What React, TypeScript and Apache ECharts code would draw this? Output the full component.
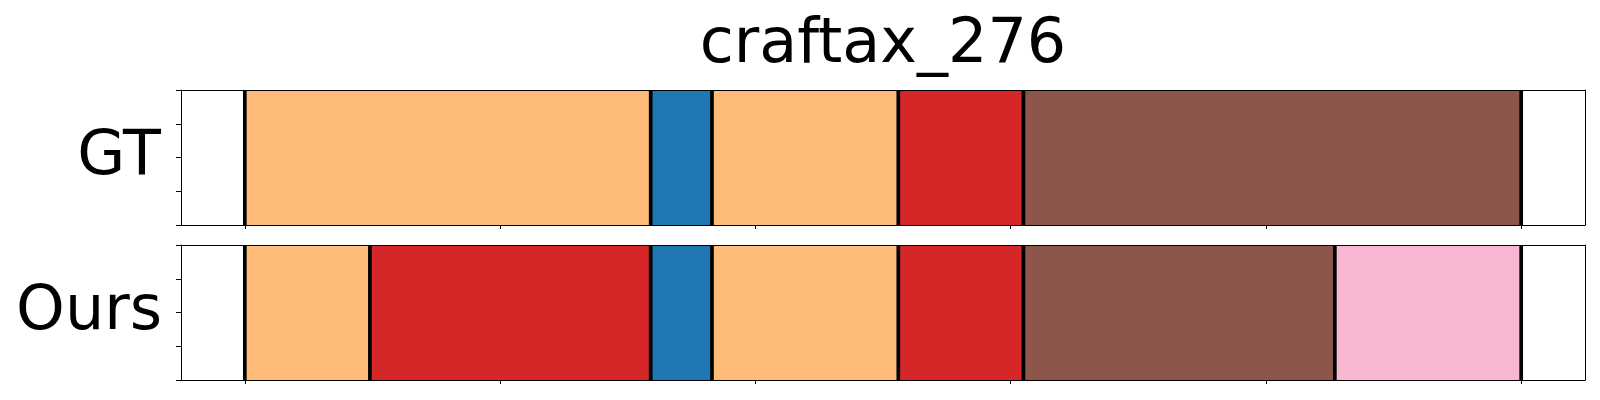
import React, { useEffect, useRef } from "react";
import * as echarts from "echarts";

const title = "craftax_276";
const rowLabels = ["GT", "Ours"];
const xTicks = [0, 100, 200, 300, 400, 500];
const gtBounds = [0, 159, 183, 256, 305, 500];
const gtClasses = [0, 1, 0, 2, 3];
const oursBounds = [0, 49, 159, 183, 256, 305, 427, 500];
const oursClasses = [0, 2, 1, 0, 2, 3, 4];
const palette = ["#ffbb78", "#1f77b4", "#d62728", "#8c564b", "#f7b6d2"];

const FONT = "DejaVu Sans";
const GRID_LEFT = 181;
const GRID_W = 1404;
const GRID_TOPS = [90, 245];
const GRID_H = 135;

function segData(bounds: number[], classes: number[]) {
  return classes.map((c, i) => [bounds[i], bounds[i + 1], c]);
}

export default function App() {
  const ref = useRef<HTMLDivElement>(null);
  useEffect(() => {
    if (!ref.current) return;
    const chart = echarts.init(ref.current, null, { renderer: "svg" });
    const rows = [
      { bounds: gtBounds, classes: gtClasses },
      { bounds: oursBounds, classes: oursClasses },
    ];
    const grids: any[] = [];
    const xAxes: any[] = [];
    const yAxes: any[] = [];
    const series: any[] = [];
    const graphics: any[] = [];
    const line = { show: true, onZero: false, lineStyle: { color: "#000", width: 1 } };
    rows.forEach((row, r) => {
      grids.push({ left: GRID_LEFT, top: GRID_TOPS[r], width: GRID_W, height: GRID_H, show: false });
      const xb = xAxes.length;
      xAxes.push({
        gridIndex: r, type: "value", min: -25, max: 525, position: "bottom", z: 10,
        axisLine: line,
        axisTick: { show: true, customValues: xTicks, length: 4, lineStyle: { color: "#000", width: 1 } },
        axisLabel: { show: false }, splitLine: { show: false },
      });
      xAxes.push({
        gridIndex: r, type: "value", min: -25, max: 525, position: "top", z: 10,
        axisLine: line,
        axisTick: { show: false }, axisLabel: { show: false }, splitLine: { show: false },
      });
      const yb = yAxes.length;
      yAxes.push({
        gridIndex: r, type: "value", min: 0, max: 1, interval: 0.25, position: "left", z: 10,
        axisLine: line,
        axisTick: { show: true, length: 5, lineStyle: { color: "#000", width: 1 } },
        axisLabel: { show: false }, splitLine: { show: false },
      });
      yAxes.push({
        gridIndex: r, type: "value", min: 0, max: 1, position: "right", z: 10,
        axisLine: line,
        axisTick: { show: false }, axisLabel: { show: false }, splitLine: { show: false },
      });
      series.push({
        type: "custom", xAxisIndex: xb, yAxisIndex: yb, z: 2,
        data: segData(row.bounds, row.classes),
        renderItem: (params: any, api: any) => {
          const s = api.value(0), e = api.value(1), c = api.value(2);
          const p0 = api.coord([s, 1]);
          const p1 = api.coord([e, 0]);
          return {
            type: "rect",
            shape: { x: p0[0], y: p0[1], width: p1[0] - p0[0], height: p1[1] - p0[1] },
            style: { fill: palette[c] },
          };
        },
      });
      series.push({
        type: "custom", xAxisIndex: xb, yAxisIndex: yb, z: 3,
        data: row.bounds.map((b) => [b]),
        renderItem: (params: any, api: any) => {
          const b = api.value(0);
          const p0 = api.coord([b, 1]);
          const p1 = api.coord([b, 0]);
          return {
            type: "line",
            shape: { x1: p0[0], y1: p0[1], x2: p1[0], y2: p1[1] },
            style: { stroke: "#000", lineWidth: 3.7 },
          };
        },
      });
    });
    graphics.push({
      type: "text", x: GRID_LEFT + GRID_W / 2, y: 40,
      style: { text: title, font: `62px "${FONT}"`, fill: "#000", align: "center", verticalAlign: "middle" },
    });
    graphics.push({
      type: "text", x: 161, y: 152,
      style: { text: rowLabels[0], font: `62px "${FONT}"`, fill: "#000", align: "right", verticalAlign: "middle" },
    });
    graphics.push({
      type: "text", x: 162, y: 307,
      style: { text: rowLabels[1], font: `62px "${FONT}"`, fill: "#000", align: "right", verticalAlign: "middle" },
    });
    chart.setOption({
      animation: false,
      backgroundColor: "#fff",
      grid: grids,
      xAxis: xAxes,
      yAxis: yAxes,
      series,
      graphic: graphics,
    });
    return () => chart.dispose();
  }, []);
  return (
    <div
      ref={ref}
      style={{ position: "fixed", left: 0, top: 0, width: 1600, height: 400 }}
    />
  );
}
